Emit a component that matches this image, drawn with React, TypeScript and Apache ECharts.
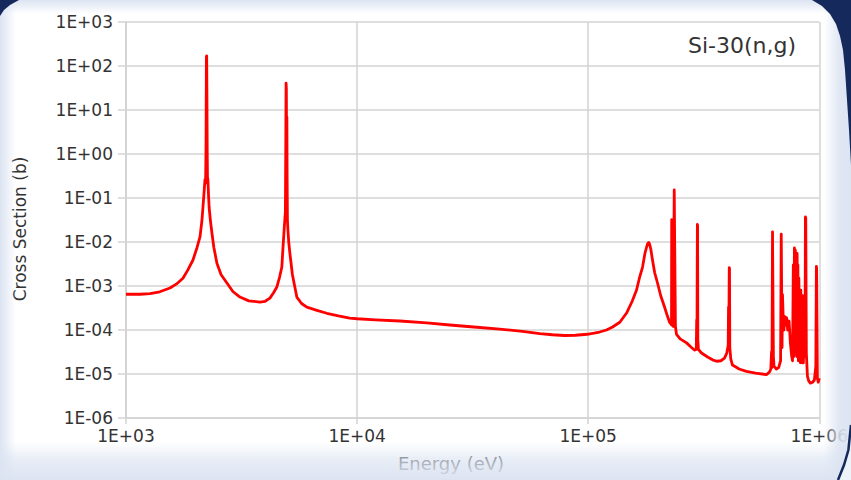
import React, { useEffect, useRef } from "react";
import * as echarts from "echarts";

// Si-30 (n,g) capture cross section, energies in eV, cross sections in barns.
// Resolved resonance region, 1 keV to 10 keV
const energyLow = [
  1000, 1150, 1270, 1400, 1550, 1650, 1764, 1850, 1949, 2030, 2090, 2130, 2153, 2180, 2196,
  2210, 2220, 2228, 2234, 2240, 2246, 2252, 2262, 2275, 2290, 2320, 2354, 2400, 2474, 2580,
  2734, 2900, 3112, 3400, 3796, 4000, 4195, 4350, 4496, 4620, 4725, 4772, 4820, 4867, 4895,
  4915, 4928, 4942, 4955, 4968, 4980, 4995, 5016, 5060, 5118, 5250, 5485, 5750, 6060, 6700,
  7396, 8300, 9290,
];
const sigmaLow = [
  6.5e-4, 6.5e-4, 6.7e-4, 7.4e-4, 9.0e-4, 1.1e-3, 1.5e-3, 2.3e-3, 3.9e-3, 7.5e-3, 1.3e-2, 3.0e-2, 6.2e-2, 0.15, 0.26,
  0.22, 1.5, 160, 170, 20, 1.2, 0.3, 0.26, 0.12, 0.06, 0.03, 0.016, 7.5e-3, 3.3e-3, 1.8e-3,
  1.17e-3, 7.5e-4, 5.6e-4, 4.6e-4, 4.3e-4, 4.5e-4, 5.3e-4, 7.0e-4, 9.5e-4, 1.6e-3, 2.7e-3, 6.6e-3, 0.015, 0.032, 0.05,
  2, 41, 30, 0.5, 6.9, 0.3, 0.032, 0.02, 0.01, 5.6e-3, 1.8e-3, 5.6e-4, 4.0e-4, 3.3e-4, 2.8e-4,
  2.4e-4, 2.1e-4, 1.87e-4,
];

// Smooth 1/v-like region, 10 keV to 100 keV
const energyMid = [10000, 12000, 15300, 20000, 25200, 32000, 41400, 52000, 61700, 70000, 79000, 88000, 99000];
const sigmaMid = [1.8e-4, 1.7e-4, 1.6e-4, 1.45e-4, 1.3e-4, 1.17e-4, 1.05e-4, 9.3e-5, 8.3e-5, 7.8e-5, 7.5e-5, 7.6e-5, 8.0e-5];

// Broad and narrow resonances, 100 keV to 1 MeV
const energyHigh = [
  106000, 112000, 120000, 127500, 137000, 146600, 155000, 161900, 167000, 171900, 176000, 179000, 181000, 182800,
  184500, 186500, 189800, 194000, 199500, 206000, 214000, 220000, 225000, 229400, 229800, 230300, 233500, 235700,
  236800, 238500, 241100, 250000, 266400, 280000, 288400, 293600, 294800, 295600, 296800, 297400, 298200, 300000,
  309300, 330000, 345100, 360000, 375000, 389000, 398000, 403500, 404800, 406000, 407800, 408800, 410000, 414000,
  421000, 450000, 483900, 530000, 590600, 608500, 617000, 621500, 624000, 627500, 630000, 633000, 637000, 652300,
  667000, 680000, 684500, 687000, 690000, 693000, 700000, 703000, 709000, 716000, 722000, 730000, 740000, 750000,
  760000, 766000, 772000, 776000, 780500, 784000, 788000, 792000, 796200, 799000, 802000, 805000, 808000, 812000,
  816000, 820400, 824000, 828600, 832000, 836800, 841000, 845000, 849000, 853700, 858000, 864000, 868000, 871000,
  874000, 879000, 888500, 900000, 915300, 935000, 952500, 962000, 966000, 971600, 974000, 981300, 990000, 1000000,
];
const sigmaHigh = [
  8.5e-5, 9.0e-5, 1.0e-4, 1.17e-4, 1.5e-4, 2.43e-4, 4.5e-4, 8.1e-4, 1.6e-3, 2.7e-3, 5.5e-3, 7.7e-3, 9.3e-3, 9.8e-3,
  8.8e-3, 7.0e-3, 3.9e-3, 2.0e-3, 1.17e-3, 6.0e-4, 3.33e-4, 2.1e-4, 1.5e-4, 1.3e-4, 0.032, 1.6e-4, 1.2e-4, 0.152,
  0.15, 1.2e-4, 8.0e-5, 6.3e-5, 5.1e-5, 4.0e-5, 3.5e-5, 3.6e-5, 1.7e-4, 5.0e-5, 0.025, 0.024, 6.0e-5, 3.6e-5,
  3.0e-5, 2.4e-5, 2.1e-5, 1.95e-5, 2.0e-5, 2.3e-5, 3.0e-5, 4.5e-5, 3.3e-4, 6.0e-5, 2.6e-3, 2.5e-3, 4.0e-5, 2.2e-5,
  1.6e-5, 1.3e-5, 1.15e-5, 1.05e-5, 9.7e-6, 1.1e-5, 1.3e-5, 3.2e-5, 1.4e-5, 0.017, 0.017, 2.5e-5, 1.5e-5, 1.3e-5,
  1.4e-5, 2.0e-5, 0.015, 0.015, 4.0e-5, 6.4e-4, 1.2e-4, 1.0e-4, 2.0e-4, 1.3e-4, 1.9e-4, 1.0e-4, 1.6e-4, 5.0e-5,
  2.5e-5, 2.0e-5, 3.0e-3, 2.5e-5, 7.3e-3, 5.0e-5, 6.5e-3, 3.0e-5, 4.6e-3, 2.5e-5, 5.5e-3, 4.0e-5, 3.0e-3, 2.0e-5,
  1.5e-3, 3.0e-5, 7.0e-4, 1.8e-5, 8.0e-4, 2.0e-5, 5.0e-4, 1.8e-5, 6.0e-4, 1.8e-5, 2.0e-4, 2.5e-5, 1.0e-4, 0.037,
  0.035, 3.0e-5, 9.0e-6, 7.0e-6, 6.2e-6, 6.5e-6, 7.3e-6, 1.2e-5, 1.5e-5, 2.8e-3, 2.5e-3, 8.0e-6, 6.5e-6, 8.0e-6,
];

const energyAxisRange = [1e3, 1e6];
const sigmaAxisRange = [1e-6, 1e3];

const chartTitle = "Si-30(n,g)";
const xAxisTitle = "Energy (eV)";
const yAxisTitle = "Cross Section (b)";

const FONT = "DejaVu Sans";
const TEXT = "#333333";
const GRID_LINE = "#d3d3d3";
const NAVY = "#15295c";
const EDGE = "rgba(220,228,242,";

// 1E+03 style exponent labels
const sciLabel = (v: number) => {
  const e = Math.round(Math.log10(v));
  return "1E" + (e < 0 ? "-" : "+") + String(Math.abs(e)).padStart(2, "0");
};

export default function App() {
  const ref = useRef<HTMLDivElement>(null);

  useEffect(() => {
    if (!ref.current) return;
    const chart = echarts.init(ref.current, undefined, { renderer: "svg" });

    const energy = [...energyLow, ...energyMid, ...energyHigh];
    const sigma = [...sigmaLow, ...sigmaMid, ...sigmaHigh];
    const points = energy.map((e, i) => [e, sigma[i]]);

    const fade = (x0: number, y0: number, x1: number, y1: number, stops: [number, number][]) =>
      new echarts.graphic.LinearGradient(
        x0, y0, x1, y1,
        stops.map(([offset, a]) => ({ offset, color: EDGE + a + ")" }))
      );

    const option: any = {
      animation: false,
      backgroundColor: "#ffffff",
      title: {
        text: chartTitle,
        right: 50,
        top: 29,
        textStyle: { fontFamily: FONT, fontSize: 22, fontWeight: "normal", color: TEXT },
      },
      grid: { left: 126, right: 31, top: 22, bottom: 62, containLabel: false },
      xAxis: {
        type: "log",
        logBase: 10,
        min: energyAxisRange[0],
        max: energyAxisRange[1],
        splitNumber: 3,
        axisLine: { show: true, lineStyle: { color: GRID_LINE, width: 1.5 } },
        axisTick: { show: true, length: 6, lineStyle: { color: GRID_LINE, width: 1.5 } },
        axisLabel: { formatter: sciLabel, fontFamily: FONT, fontSize: 17, color: TEXT, margin: 9 },
        splitLine: { show: true, lineStyle: { color: GRID_LINE, width: 1.5 } },
        minorTick: { show: false },
      },
      yAxis: {
        type: "log",
        logBase: 10,
        min: sigmaAxisRange[0],
        max: sigmaAxisRange[1],
        splitNumber: 9,
        axisLine: { show: true, lineStyle: { color: GRID_LINE, width: 1.5 } },
        axisTick: { show: true, length: 8, lineStyle: { color: GRID_LINE, width: 1.5 } },
        axisLabel: { formatter: sciLabel, fontFamily: FONT, fontSize: 17, color: TEXT, margin: 13 },
        splitLine: { show: true, lineStyle: { color: GRID_LINE, width: 1.5 } },
        minorTick: { show: false },
      },
      series: [
        {
          type: "line",
          data: points,
          showSymbol: false,
          symbol: "none",
          lineStyle: { color: "#ff0000", width: 2.8, join: "round" },
          z: 3,
        },
      ],
      graphic: [
        {
          type: "text",
          x: 20,
          y: 229,
          rotation: Math.PI / 2,
          z: 10,
          style: { text: yAxisTitle, fontFamily: FONT, fontSize: 17, fill: TEXT, align: "center", verticalAlign: "middle" },
        },
        {
          type: "text",
          x: 451,
          y: 463,
          z: 10,
          style: { text: xAxisTitle, fontFamily: FONT, fontSize: 18, fill: TEXT, align: "center", verticalAlign: "middle" },
        },
        // soft light-blue edges of the panel
        {
          type: "rect",
          z: 50,
          shape: { x: 0, y: 442, width: 851, height: 38 },
          style: { fill: fade(0, 0, 0, 1, [[0, 0], [0.45, 0.65], [1, 1]]) },
        },
        {
          type: "rect",
          z: 50,
          shape: { x: 824, y: 0, width: 27, height: 480 },
          style: { fill: fade(0, 0, 1, 0, [[0, 0], [0.55, 0.85], [1, 1]]) },
        },
        {
          type: "rect",
          z: 50,
          shape: { x: 0, y: 0, width: 16, height: 480 },
          style: { fill: fade(0, 0, 1, 0, [[0, 1], [1, 0]]) },
        },
        {
          type: "rect",
          z: 50,
          shape: { x: 0, y: 0, width: 851, height: 14 },
          style: { fill: fade(0, 0, 0, 1, [[0, 1], [1, 0]]) },
        },
        // dark frame corners
        {
          type: "polygon",
          z: 60,
          shape: { points: [[0, 0], [19, 0], [10, 5], [4, 10], [0, 16]] },
          style: { fill: NAVY },
        },
        {
          type: "polygon",
          z: 60,
          shape: {
            points: [
              [812, 0], [822, 6], [830, 14], [836, 24], [840, 36], [843, 50], [845, 70],
              [847, 100], [849, 130], [851, 165], [851, 0],
            ],
          },
          style: { fill: NAVY },
        },
        {
          type: "polygon",
          z: 60,
          shape: {
            points: [[851, 425], [848.4, 450], [844, 465], [838, 480], [851, 480]],
          },
          style: { fill: "#eef2f9" },
        },
        {
          type: "polyline",
          z: 61,
          shape: { points: [[851, 425], [848.4, 450], [844, 465], [838, 480]] },
          style: { stroke: NAVY, lineWidth: 2.5, fill: "none" },
        },
      ],
    };

    chart.setOption(option);
    return () => chart.dispose();
  }, []);

  return (
    <div
      ref={ref}
      style={{ position: "fixed", left: 0, top: 0, width: 851, height: 480, background: "#ffffff" }}
    />
  );
}
